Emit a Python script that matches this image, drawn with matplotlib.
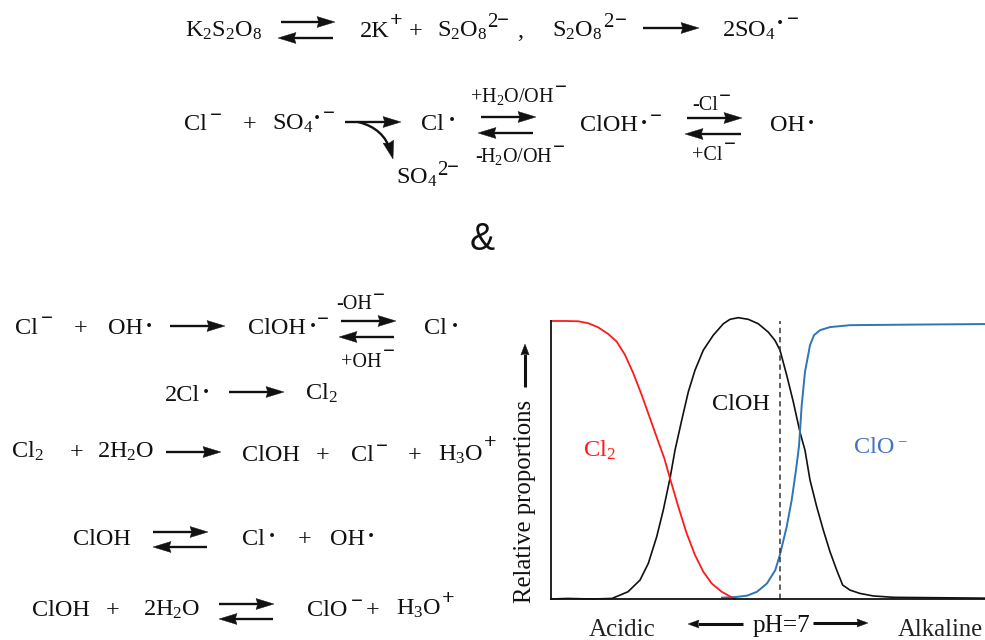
"""Chlorine radical reaction scheme with the pH speciation chart."""
import numpy as np
import matplotlib
matplotlib.use("Agg")
import matplotlib.pyplot as plt
from matplotlib.patches import Polygon, PathPatch
from matplotlib.path import Path

plt.rcParams["font.family"] = ["Liberation Serif", "DejaVu Sans"]
plt.rcParams["mathtext.fontset"] = "custom"
plt.rcParams["mathtext.rm"] = "Liberation Serif"
plt.rcParams["mathtext.default"] = "rm"

W, H = 985, 640
INK = "#111111"
RED = "#ff1a1a"
BLUE = "#2e75b6"
BLUE_TEXT = "#4472c4"

# speciation curves: x is distance along the pH axis, y is relative proportion
cl2_x = [0, 14, 27.3, 37.3, 47.3, 57.3, 65.7, 74, 82.3, 90.7, 99, 107.3, 113.3,
         119, 127.3, 135.7, 144, 152.3, 160.7, 170.7, 180.7, 184]
cl2_y = [100, 100, 99.9, 99.2, 97.7, 95.3, 92.6, 87.8, 81.2, 73.4, 65, 56.6, 50.6,
         43.4, 33.2, 23.6, 15.8, 9.8, 5.6, 2.6, 0.6, 0]

cloh_x = [0, 17, 41, 61, 77, 89, 97.3, 105.7, 112.3, 119, 124, 130.7, 137.3, 144, 152.3,
          162.3, 172.3, 179, 187.3, 197.3, 207.3, 217.3, 224, 229, 235.7, 242.3, 249, 254,
          259, 265.7, 272.3, 279, 285.7, 291.7, 299, 309, 322.3, 342.3, 434]
cloh_y = [0, 0.2, 0, 0.2, 2.6, 6.8, 12.8, 22.4, 32, 43.4, 53.5, 64.3, 74.5, 82.3, 89.5,
          94.9, 99, 100.6, 101.2, 100.6, 99, 96, 93, 89.5, 80.5, 70.9, 60, 53.5,
          42.8, 33.2, 24.8, 17, 10.4, 5, 3.2, 2, 1.1, 0.6, 0.3]

clo_x = [171, 184.3, 196, 206, 216, 224.3, 229, 235.7, 240.7, 245, 248, 250.7, 254,
         259, 263, 269, 279, 299, 360, 434]
clo_y = [0.5, 0.7, 1.2, 2.6, 5.6, 10.4, 16, 26, 35.6, 46.4, 55, 69.7, 81.7,
         91.3, 94.9, 96.7, 97.8, 98.5, 98.7, 98.9]

neutral_x = 229

fig = plt.figure(figsize=(W / 100, H / 100), dpi=100)

# --- chart ------------------------------------------------------------------
ax = fig.add_axes([551 / W, 1 - 599 / H, 434 / W, 278 / H])
ax.set_xlim(0, 434)
ax.set_ylim(0, 100)
ax.set_xticks([])
ax.set_yticks([])
for side in ("top", "right"):
    ax.spines[side].set_visible(False)
for side in ("left", "bottom"):
    ax.spines[side].set_linewidth(1.3)
    ax.spines[side].set_color(INK)
ax.patch.set_alpha(0)
ax.plot(cloh_x, cloh_y, color=INK, lw=1.2, clip_on=False)
ax.plot(clo_x, clo_y, color=BLUE, lw=1.4, clip_on=False)
ax.plot(cl2_x, cl2_y, color=RED, lw=1.3, clip_on=False)
ax.plot([neutral_x, neutral_x], [0, 100], color="#333333", lw=1.1, ls=(0, (3.5, 2.5)))

# --- overlay in pixel coordinates -------------------------------------------
ov = fig.add_axes([0, 0, 1, 1])
ov.set_xlim(0, W)
ov.set_ylim(H, 0)
ov.axis("off")
ov.patch.set_alpha(0)


def t(x, y, s, size=17.5, color=INK, **kw):
    ov.text(x, y, s, fontsize=size, color=color, ha="left", va="baseline", **kw)


def sup_minus(x0, x1, y, color=INK):
    # short bar, bolder than the normal glyph
    ov.text((x0 + x1) / 2, y + 5.2, "\u2212", fontsize=15, color=color,
            ha="center", va="baseline", fontweight="bold")


def sup_plus(x0, x1, y):
    ov.text((x0 + x1) / 2, y + 5.5, "+", fontsize=16, color=INK,
            ha="center", va="baseline", fontweight="bold")


def dot(x, y):
    ov.text(x, y + 6, "\u00b7", fontsize=17.5, color=INK, ha="center", va="baseline",
            fontweight="bold")


def head(x1, y1, ang, length=18.0, half=5.5, color=INK):
    c, s = np.cos(ang), np.sin(ang)
    pts = [(0, 0), (-length, half), (-length * 0.9, 0), (-length, -half)]
    xy = [(x1 + px * c - py * s, y1 + px * s + py * c) for px, py in pts]
    ov.add_patch(Polygon(xy, closed=True, facecolor=color, edgecolor=color, lw=0.3))


def arrow(x0, y0, x1, y1, length=18.0, half=5.5, lw=1.7):
    ang = np.arctan2(y1 - y0, x1 - x0)
    ov.plot([x0, x1 - 10 * np.cos(ang)], [y0, y1 - 10 * np.sin(ang)],
            color=INK, lw=lw, solid_capstyle="butt")
    head(x1, y1, ang, length, half)


def equilibrium(x0, x1, y_top, x2, x3, y_bot):
    arrow(x0, y_top, x1, y_top)
    arrow(x3, y_bot, x2, y_bot)


# --- row 1 ------------------------------------------------------------------
t(185, 37, r"$K_2S_2O_8$")
equilibrium(281, 335, 22, 278, 333, 38)
t(360, 37, "2K")
sup_plus(391, 402, 21)
t(409, 37, "+")
t(437, 37, r"$S_2O_8$")
t(487, 27, "2", size=15)
sup_minus(497, 509, 21)
t(517, 37, ",")
t(552, 37, r"$S_2O_8$")
t(603, 27, "2", size=15)
sup_minus(616, 625, 21)
arrow(643, 28, 699, 28)
t(722, 37, r"$2SO_4$")
dot(780, 24)
sup_minus(788, 797, 20)

# --- row 2 ------------------------------------------------------------------
t(184, 130, "Cl")
sup_minus(212, 220, 116)
t(243, 130, "+")
t(272, 130, r"$SO_4$")
dot(317, 119)
sup_minus(325, 333, 114)
arrow(345, 122, 401, 122)
ov.add_patch(PathPatch(Path([(358, 122), (384, 128), (391, 152)],
                            [Path.MOVETO, Path.CURVE3, Path.CURVE3]),
                       facecolor="none", edgecolor=INK, lw=1.7))
head(393, 159, np.radians(75))
t(396, 184, r"$SO_4$")
t(437, 175, "2", size=15)
sup_minus(449, 457, 168)
t(421, 130, "Cl")
dot(452, 121)
t(470, 102, r"$+H_2O/OH$", size=14.5)
sup_minus(557, 565, 88)
equilibrium(481, 536, 117, 478, 533, 133)
t(475, 162, "-", size=14.5)
t(480, 162, r"$H_2O/OH$", size=14.5)
sup_minus(555, 563, 148)
t(580, 131, "ClOH")
dot(644, 124)
sup_minus(651, 660, 117)
t(692, 110, "-Cl", size=14.5)
sup_minus(720, 729, 97)
equilibrium(687, 742, 118, 685, 741, 134)
t(692, 160, "+Cl", size=14.5)
sup_minus(725, 734, 145)
t(770, 131, "OH")
dot(811, 124)

ov.text(482, 250, "&", fontsize=27, color=INK, ha="center", va="baseline",
        family=["Liberation Sans", "DejaVu Sans"])

# --- lower left scheme ------------------------------------------------------
t(15, 334, "Cl")
sup_minus(42, 51, 319)
t(74, 334, "+")
t(108, 334, "OH")
dot(149, 327)
arrow(170, 326, 225, 326)
t(248, 334, "ClOH")
dot(313, 327)
sup_minus(318, 327, 320)
equilibrium(341, 396, 321, 339, 394, 337)
t(336, 309, "-OH", size=14.5)
sup_minus(374, 383, 296)
t(341, 367, "+OH", size=14.5)
sup_minus(384, 393, 352)
t(424, 334, "Cl")
dot(455, 327)

t(165, 401, "2Cl")
dot(206, 393)
arrow(229, 392, 284, 392)
t(305, 400, r"$Cl_2$")

t(11, 458, r"$Cl_2$")
t(70, 458, "+")
t(97, 458, r"$2H_2O$")
arrow(166, 452, 221, 452)
t(242, 461, "ClOH")
t(316, 461, "+")
t(351, 461, "Cl")
sup_minus(378, 386, 447)
t(408, 461, "+")
t(438, 461, r"$H_3O$")
sup_plus(486, 495, 443)

t(73, 545, "ClOH")
equilibrium(153, 208, 532, 153, 207, 547)
t(242, 545, "Cl")
dot(272, 537)
t(298, 545, "+")
t(330, 545, "OH")
dot(371, 537)

t(32, 616, "ClOH")
t(106, 616, "+")
t(143, 616, r"$2H_2O$")
equilibrium(219, 274, 604, 219, 273, 619)
t(307, 616, "ClO")
sup_minus(352, 361, 602)
t(366, 616, "+")
t(396, 615, r"$H_3O$")
sup_plus(443, 453, 599)

# --- chart labels -----------------------------------------------------------
ov.text(531, 603, "Relative proportions", fontsize=17.8, color=INK, rotation=90,
        ha="left", va="baseline", rotation_mode="anchor")
arrow(525, 387, 525, 344, length=11, half=4.2, lw=2.2)
t(583, 457, r"$Cl_2$", color=RED)
t(712, 410, "ClOH")
t(854, 453, "ClO", color=BLUE_TEXT)
ov.text(901.5, 446, "\u2212", fontsize=12, color=BLUE_TEXT, ha="center", va="baseline")
t(589, 636, "Acidic", size=18, color="#222222")
t(753, 632, "pH=7", size=18.2)
t(898, 636, "Alkaline", size=17.8, color="#222222")
arrow(743, 624, 688, 624, length=11, half=4, lw=2.2)
arrow(813, 623, 868, 623, length=11, half=4, lw=2.2)

fig.savefig("out.png", dpi=100)
